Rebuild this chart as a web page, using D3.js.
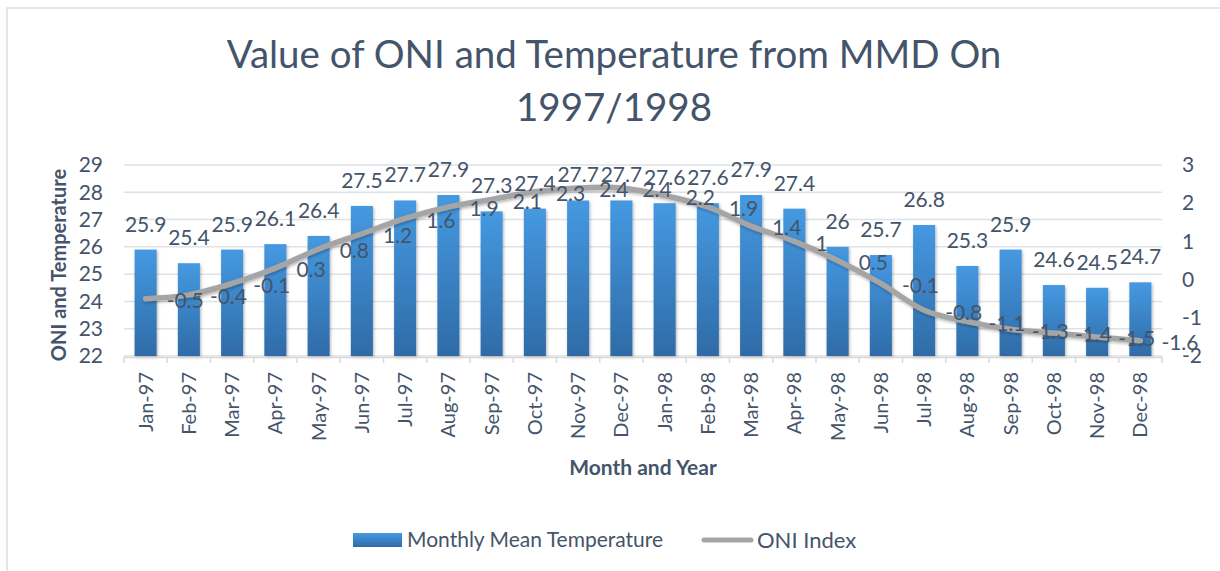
<!DOCTYPE html>
<html>
<head>
<meta charset="utf-8">
<script src="https://cdn.jsdelivr.net/npm/d3@7"></script>
<style>
  body { margin: 0; background: #fff; }
  text { font-family: Lato, "Open Sans", sans-serif; fill: #44546A; }
</style>
</head>
<body>
<svg width="1220" height="571"></svg>
<script>
// data
var months = ["Jan-97","Feb-97","Mar-97","Apr-97","May-97","Jun-97","Jul-97","Aug-97","Sep-97","Oct-97","Nov-97","Dec-97",
              "Jan-98","Feb-98","Mar-98","Apr-98","May-98","Jun-98","Jul-98","Aug-98","Sep-98","Oct-98","Nov-98","Dec-98"];
var temperature = [25.9,25.4,25.9,26.1,26.4,27.5,27.7,27.9,27.3,27.4,27.7,27.7,
                   27.6,27.6,27.9,27.4,26,25.7,26.8,25.3,25.9,24.6,24.5,24.7];
var oni = [-0.5,-0.4,-0.1,0.3,0.8,1.2,1.6,1.9,2.1,2.3,2.4,2.4,
           2.2,1.9,1.4,1,0.5,-0.1,-0.8,-1.1,-1.3,-1.4,-1.5,-1.6];
var leftTicks = [22,23,24,25,26,27,28,29];
var rightTicks = [-2,-1,0,1,2,3];
var titleLines = ["Value of ONI and Temperature from MMD On", "1997/1998"];

var svg = d3.select("svg");
var textColor = "#44546A";

// outer frame
svg.append("path")
  .attr("d", "M7,571 V8 H1220")
  .attr("fill", "none")
  .attr("stroke", "#e3e6ea")
  .attr("stroke-width", 2);

var defs = svg.append("defs");
var grad = defs.append("linearGradient").attr("id", "barGrad")
  .attr("x1", 0).attr("y1", 0).attr("x2", 0).attr("y2", 1);
grad.append("stop").attr("offset", "0%").attr("stop-color", "#4599e1");
grad.append("stop").attr("offset", "100%").attr("stop-color", "#2f6ba7");

var shadow = defs.append("filter").attr("id", "shadow")
  .attr("x", "-20%").attr("y", "-20%").attr("width", "140%").attr("height", "140%");
shadow.append("feDropShadow").attr("dx", 1).attr("dy", 1.5).attr("stdDeviation", 1.5)
  .attr("flood-color", "#000").attr("flood-opacity", 0.3);

var x = d3.scaleBand()
  .domain(months)
  .range([124, 1162])
  .paddingInner(0.49)
  .paddingOuter(0.245);

var y = d3.scaleLinear().domain([22, 29]).range([356, 165]);
var y2 = d3.scaleLinear().domain([-2, 3]).range([356, 165]);

// title
svg.append("g").selectAll("text")
  .data(titleLines)
  .enter().append("text")
  .attr("x", 614)
  .attr("y", function (d, i) { return 68 + i * 53; })
  .attr("text-anchor", "middle")
  .style("font-size", "38.5px")
  .style("font-weight", 400)
  .text(function (d) { return d; });

// gridlines
svg.append("g").selectAll("line")
  .data(leftTicks)
  .enter().append("line")
  .attr("x1", 124).attr("x2", 1162)
  .attr("y1", function (d) { return y(d); })
  .attr("y2", function (d) { return y(d); })
  .attr("stroke", "#dfe1e4")
  .attr("stroke-width", 1.5);

// left axis
var leftAxis = svg.append("g")
  .attr("transform", "translate(103,0)")
  .call(d3.axisLeft(y).tickValues(leftTicks).tickFormat(d3.format("d")).tickSize(0).tickPadding(0));
leftAxis.select(".domain").remove();
leftAxis.selectAll("text").style("font-size", "21px").attr("fill", textColor);

// right axis
var rightAxis = svg.append("g")
  .attr("transform", "translate(1182,0)")
  .call(d3.axisRight(y2).tickValues(rightTicks).tickFormat(function (d) { return String(d); }).tickSize(0).tickPadding(0));
rightAxis.select(".domain").remove();
rightAxis.selectAll("text").style("font-size", "21px").attr("fill", textColor);

// bars
svg.append("g").selectAll("rect")
  .data(months)
  .enter().append("rect")
  .attr("x", function (d) { return x(d); })
  .attr("y", function (d, i) { return y(temperature[i]); })
  .attr("width", x.bandwidth())
  .attr("height", function (d, i) { return y(22) - y(temperature[i]); })
  .attr("fill", "url(#barGrad)")
  .attr("filter", "url(#shadow)");

// x axis
var bottomAxis = svg.append("g")
  .attr("transform", "translate(0,357)")
  .call(d3.axisBottom(x).tickSize(0).tickPadding(0));
bottomAxis.select(".domain").attr("stroke", "#d9d9d9").attr("stroke-width", 1.5);
bottomAxis.selectAll(".tick text")
  .attr("transform", "rotate(-90)")
  .attr("x", -15)
  .attr("y", 0)
  .attr("dy", "0.35em")
  .attr("text-anchor", "end")
  .style("font-size", "20px")
  .attr("fill", textColor);
// category separator ticks
bottomAxis.append("g").selectAll("line")
  .data(months.concat(["end"]))
  .enter().append("line")
  .attr("x1", function (d, i) { return x.range()[0] + i * x.step(); })
  .attr("x2", function (d, i) { return x.range()[0] + i * x.step(); })
  .attr("y1", 0).attr("y2", 6)
  .attr("stroke", "#d9d9d9")
  .attr("stroke-width", 1.5);

// ONI line
var line = d3.line()
  .x(function (d, i) { return x(months[i]) + x.bandwidth() / 2; })
  .y(function (d) { return y2(d); })
  .curve(d3.curveCatmullRom.alpha(0.5));

svg.append("path")
  .datum(oni)
  .attr("d", line)
  .attr("fill", "none")
  .attr("stroke", "#a5a5a5")
  .attr("stroke-width", 5.5)
  .attr("stroke-linecap", "round")
  .attr("filter", "url(#shadow)");

// temperature labels
svg.append("g").selectAll("text")
  .data(temperature)
  .enter().append("text")
  .attr("x", function (d, i) { return x(months[i]) + x.bandwidth() / 2; })
  .attr("y", function (d) { return y(d) - 18; })
  .attr("text-anchor", "middle")
  .style("font-size", "21px")
  .text(function (d) { return d; });

// ONI labels
svg.append("g").selectAll("text")
  .data(oni)
  .enter().append("text")
  .attr("x", function (d, i) { return x(months[i]) + x.bandwidth() / 2 + 21; })
  .attr("y", function (d) { return y2(d) + 2; })
  .attr("dy", "0.35em")
  .style("font-size", "21px")
  .text(function (d) { return d; });

// axis titles
svg.append("text")
  .attr("transform", "rotate(-90)")
  .attr("x", -265)
  .attr("y", 66)
  .attr("text-anchor", "middle")
  .style("font-size", "20px")
  .style("font-weight", "bold")
  .text("ONI and Temperature");

svg.append("text")
  .attr("x", 643)
  .attr("y", 475)
  .attr("text-anchor", "middle")
  .style("font-size", "21px")
  .style("font-weight", "bold")
  .text("Month and Year");

// legend
var legend = svg.append("g");
legend.append("rect")
  .attr("x", 353).attr("y", 533).attr("width", 49).attr("height", 14)
  .attr("fill", "url(#barGrad)");
legend.append("text")
  .attr("x", 407).attr("y", 540).attr("dy", "0.35em")
  .style("font-size", "21px")
  .text("Monthly Mean Temperature");
legend.append("line")
  .attr("x1", 704).attr("x2", 751).attr("y1", 540).attr("y2", 540)
  .attr("stroke", "#a5a5a5").attr("stroke-width", 5).attr("stroke-linecap", "round");
legend.append("text")
  .attr("x", 757).attr("y", 540).attr("dy", "0.35em")
  .style("font-size", "22px")
  .text("ONI Index");
</script>
</body>
</html>
